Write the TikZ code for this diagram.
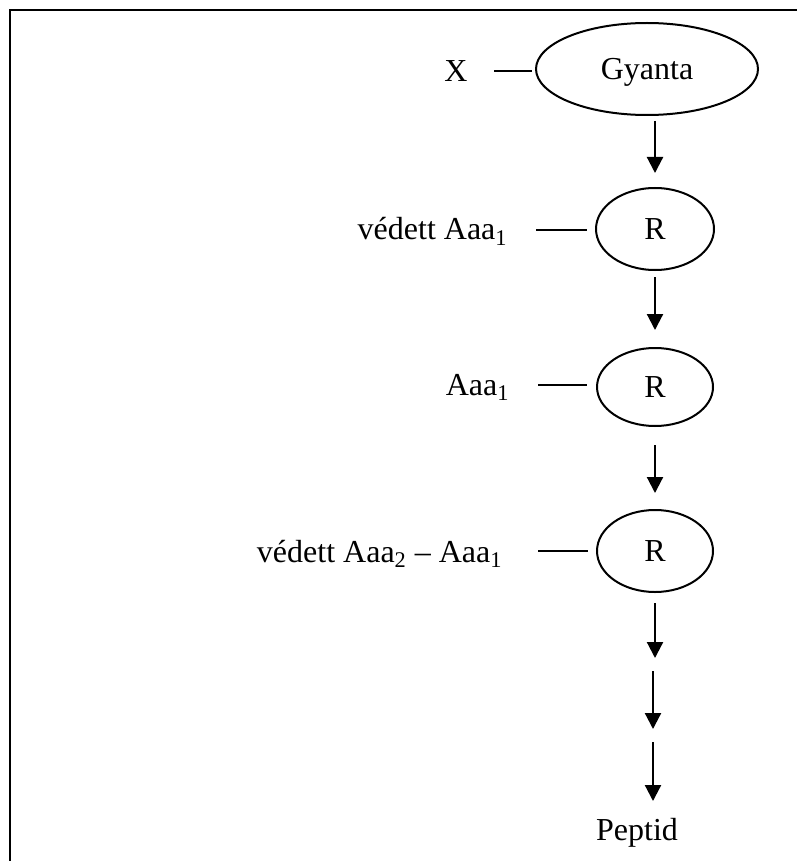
\documentclass[tikz,border=0pt]{standalone}
\usepackage{fontspec}
\setmainfont{Liberation Serif}
\usetikzlibrary{shapes.geometric,arrows.meta}
\begin{document}
\begin{tikzpicture}[x=0.5pt,y=-0.5pt,
  every node/.style={font=\fontsize{16}{19}\selectfont},
  oval/.style={draw,ellipse,line width=1pt,inner sep=0pt,text depth=0pt},
  lbl/.style={inner sep=0pt,anchor=base east},
  link/.style={line width=1pt},
  flow/.style={line width=1.1pt,-{Triangle[width=8pt,length=8pt]}}]
\useasboundingbox (0,0) rectangle (797,861);
\draw[line width=1.2pt] (10,861) -- (10,10) -- (797,10);
% ovals
\node[oval,minimum width=111pt,minimum height=46pt] (gy) at (647,69) {Gyanta};
\node[oval,minimum width=59pt,minimum height=41pt] (r1) at (655,229) {R};
\node[oval,minimum width=58pt,minimum height=39pt] (r2) at (655,387) {R};
\node[oval,minimum width=58pt,minimum height=41pt] (r3) at (655,551) {R};
% labels
\node[lbl] (lx) at (468,82) {X};
\node[lbl] (l1) at (508,240) {védett Aaa\textsubscript{1}};
\node[lbl] (l2) at (510,395) {Aaa\textsubscript{1}};
\node[lbl] (l3) at (503,562) {védett Aaa\textsubscript{2} – Aaa\textsubscript{1}};
\node[inner sep=0pt,anchor=base] (pep) at (637,840) {Peptid};
% link lines
\coordinate (x0) at (494,71); \coordinate (x1) at (532,71);
\coordinate (a0) at (536,230); \coordinate (a1) at (587,230);
\coordinate (b0) at (538,385); \coordinate (b1) at (587,385);
\coordinate (c0) at (538,551); \coordinate (c1) at (588,551);
\draw[link] (x0) -- (x1);
\draw[link] (a0) -- (a1);
\draw[link] (b0) -- (b1);
\draw[link] (c0) -- (c1);
% flow arrows
\coordinate (f1a) at (655,121); \coordinate (f1b) at (655,173);
\coordinate (f2a) at (655,277); \coordinate (f2b) at (655,330);
\coordinate (f3a) at (655,445); \coordinate (f3b) at (655,493);
\coordinate (f4a) at (655,603); \coordinate (f4b) at (655,658);
\coordinate (f5a) at (653,671); \coordinate (f5b) at (653,729);
\coordinate (f6a) at (653,742); \coordinate (f6b) at (653,801);
\draw[flow] (f1a) -- (f1b);
\draw[flow] (f2a) -- (f2b);
\draw[flow] (f3a) -- (f3b);
\draw[flow] (f4a) -- (f4b);
\draw[flow] (f5a) -- (f5b);
\draw[flow] (f6a) -- (f6b);
\end{tikzpicture}
\end{document}
